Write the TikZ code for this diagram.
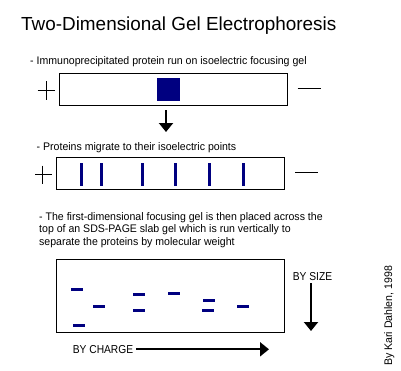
\documentclass[tikz,border=0pt]{standalone}
\usepackage{fontspec}
\setmainfont{Liberation Sans}
\newfontfamily\capsfont[FakeStretch=0.89]{Liberation Sans}
\newfontfamily\stepfont[FakeStretch=0.96]{Liberation Sans}
\usetikzlibrary{arrows.meta}
\definecolor{bandblue}{RGB}{0,0,128}
\tikzset{
  gel/.style={rectangle, draw, line width=1pt, inner sep=0pt},
  band/.style={rectangle, fill=bandblue, inner sep=0pt},
  caption/.style={anchor=base west, inner sep=0pt, font=\stepfont\fontsize{11}{12.8}\selectfont, align=left},
  sign/.style={line width=0.8pt},
  bigarrow/.style={line width=2pt, -{Triangle[width=14pt,length=9pt]}}
}
\begin{document}
\begin{tikzpicture}[x=1pt, y=-1pt]
  \useasboundingbox (0,0) rectangle (401,370);
  % Nodes
  \node (title) at (21,30) [anchor=base west, inner sep=0pt, font=\fontsize{18.9}{21}\selectfont] {Two-Dimensional Gel Electrophoresis};
  \node (stepone) at (30,64.5) [caption] {- Immunoprecipitated protein run on isoelectric focusing gel};
  \node (gelA) at (173.3,89.3) [gel, minimum width=228pt, minimum height=32pt] {};
  \node (spot) at (168.5,89.5) [band, minimum width=23pt, minimum height=23pt] {};
  \node (steptwo) at (36.5,150.5) [caption] {- Proteins migrate to their isoelectric points};
  \node (gelB) at (170.3,173.3) [gel, minimum width=228pt, minimum height=32pt] {};
  \foreach \bx [count=\i] in {81,101,142.3,175.7,209.3,243.3}
    \node (pI\i) at (\bx,174) [band, minimum width=3pt, minimum height=23pt] {};
  \node (stepthree) at (39,245.7) [caption] {- The first-dimensional focusing gel is then placed across the\\top of an SDS-PAGE slab gel which is run vertically to\\separate the proteins by molecular weight};
  \node (gelC) at (170.3,295.8) [gel, minimum width=228pt, minimum height=73pt] {};
  \foreach \bx/\by [count=\i] in {77/289.3, 79/325.3, 99/306.3, 139/294, 139/310.3, 174/293, 209/300.3, 208/310.3, 243/306.3}
    \node (spotC\i) at (\bx,\by) [band, minimum width=12pt, minimum height=3pt] {};
  \node (bysize) at (292.7,280) [caption, font=\capsfont\fontsize{11.5}{13}\selectfont] {BY SIZE};
  \node (bycharge) at (72.7,353.5) [caption, font=\capsfont\fontsize{11.5}{13}\selectfont] {BY CHARGE};
  \node (credit) at (392,366) [anchor=base west, inner sep=0pt, rotate=90, font=\stepfont\fontsize{11}{13}\selectfont] {By Kari Dahlen, 1998};
  \coordinate (migtop) at (166,110);
  \coordinate (migtip) at (166,132);
  \coordinate (sizetop) at (311,283);
  \coordinate (sizetip) at (311,331);
  \coordinate (chargetail) at (136,349.3);
  \coordinate (chargetip) at (269,349.3);

  % Edges
  \draw[sign] (37.7,90) -- (55,90) (46.3,81) -- (46.3,100);
  \draw[sign] (297.7,88.3) -- (321,88.3);
  \draw[sign] (35,174) -- (52.3,174) (42.7,165.5) -- (42.7,184);
  \draw[sign] (295,172) -- (317.7,172);
  \draw[bigarrow] (migtop) -- (migtip);
  \draw[bigarrow] (sizetop) -- (sizetip);
  \draw[bigarrow] (chargetail) -- (chargetip);
\end{tikzpicture}
\end{document}
